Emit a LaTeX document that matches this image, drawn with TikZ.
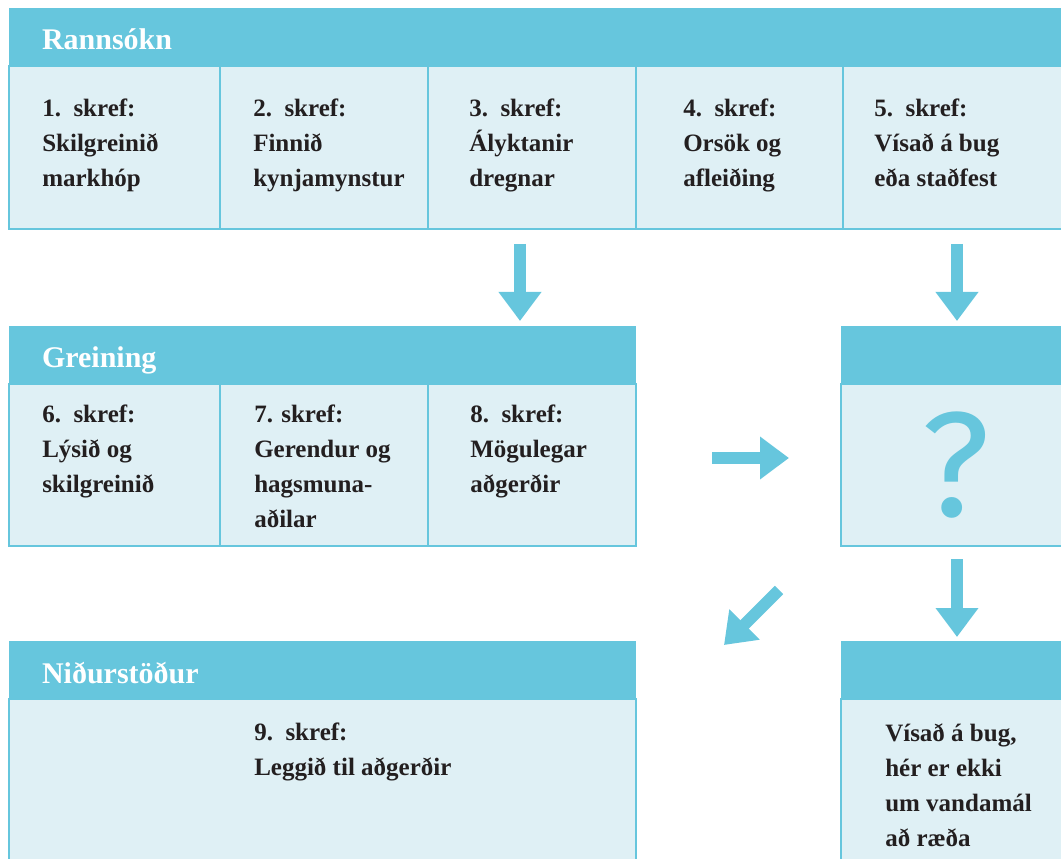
\documentclass[tikz,border=0pt]{standalone}
\usepackage{fontspec}
\setmainfont{Liberation Serif}
\newfontfamily\qmarkfont{Fira Sans}
\usetikzlibrary{arrows.meta, positioning}
\definecolor{headblue}{HTML}{66C6DD}
\definecolor{cellblue}{HTML}{DFF0F5}
\definecolor{inkdark}{HTML}{231F20}
\newdimen\pxu \pxu=0.75pt

\begin{document}
\begin{tikzpicture}[
        x=1\pxu, y=-1\pxu,
        header/.style={rectangle, fill=headblue, text=white, anchor=north west, outer sep=0pt, inner xsep=33\pxu, minimum height=58\pxu, text height=19.5pt, text depth=0pt, align=left, font=\bfseries\fontsize{22.5}{27}\selectfont},
        cell/.style={rectangle, fill=cellblue, draw=headblue, line width=2.2\pxu, outer sep=0pt, minimum height=163\pxu},
        steptext/.style={anchor=north west, inner sep=0pt, align=left, text=inkdark, font=\bfseries\fontsize{18.75}{26.25}\selectfont, execute at begin node=\strut},
        bigarrow/.style={draw=headblue, line width=9pt, -{Triangle[width=30.75pt, length=21.75pt]}}
    ]
    \useasboundingbox (0,0) rectangle (1061,859);

    % Rannsokn
    \node[header, text width=994\pxu] (rann) at (9,8) {Rannsókn};
    \node[cell, minimum width=211\pxu, anchor=north west] (s1) at (rann.south west) {};
    \node[cell, minimum width=208\pxu, right=0pt of s1] (s2) {};
    \node[cell, minimum width=208\pxu, right=0pt of s2] (s3) {};
    \node[cell, minimum width=207\pxu, right=0pt of s3] (s4) {};
    \node[cell, minimum width=227\pxu, right=0pt of s4] (s5) {};
    \node[steptext] (t1) at ([xshift=33\pxu, yshift=-32.5\pxu]s1.north west) {1.\ \ skref:\\Skilgreinið\\markhóp};
    \node[steptext] (t2) at ([xshift=33\pxu, yshift=-32.5\pxu]s2.north west) {2.\ \ skref:\\Finnið\\kynjamynstur};
    \node[steptext] (t3) at ([xshift=41\pxu, yshift=-32.5\pxu]s3.north west) {3.\ \ skref:\\Ályktanir\\dregnar};
    \node[steptext] (t4) at ([xshift=47\pxu, yshift=-32.5\pxu]s4.north west) {4.\ \ skref:\\Orsök og\\afleiðing};
    \node[steptext] (t5) at ([xshift=31\pxu, yshift=-32.5\pxu]s5.north west) {5.\ \ skref:\\Vísað á bug\\eða staðfest};

    % Greining
    \node[header, text width=561\pxu] (grein) at (9,326) {Greining};
    \node[cell, minimum width=211\pxu, minimum height=162\pxu, anchor=north west] (s6) at (grein.south west) {};
    \node[cell, minimum width=208\pxu, minimum height=162\pxu, right=0pt of s6] (s7) {};
    \node[cell, minimum width=208\pxu, minimum height=162\pxu, right=0pt of s7] (s8) {};
    \node[steptext] (t6) at ([xshift=33\pxu, yshift=-20.5\pxu]s6.north west) {6.\ \ skref:\\Lýsið og\\skilgreinið};
    \node[steptext] (t7) at ([xshift=34\pxu, yshift=-20.5\pxu]s7.north west) {7. skref:\\Gerendur og\\hagsmuna-\\aðilar};
    \node[steptext] (t8) at ([xshift=42\pxu, yshift=-20.5\pxu]s8.north west) {8.\ \ skref:\\Mögulegar\\aðgerðir};

    % spurning
    \node[header, minimum width=229\pxu] (qhead) at (841,326) {};
    \node[cell, minimum width=229\pxu, minimum height=162\pxu, anchor=north west, text=headblue, font=\qmarkfont\fontsize{112}{112}\selectfont] (qcell) at (qhead.south west) {?};

    % Nidurstodur
    \node[header, text width=561\pxu] (nidur) at (9,641) {Niðurstöður};
    \node[cell, minimum width=627\pxu, minimum height=185\pxu, anchor=north west] (ncell) at (nidur.south west) {};
    \node[steptext] (t9) at ([xshift=245\pxu, yshift=-23.5\pxu]ncell.north west) {9.\ \ skref:\\Leggið til aðgerðir};

    \node[header, minimum width=229\pxu] (rhead) at (841,641) {};
    \node[cell, minimum width=229\pxu, minimum height=185\pxu, anchor=north west] (rcell) at (rhead.south west) {};
    \node[steptext] (t10) at ([xshift=44\pxu, yshift=-24.5\pxu]rcell.north west) {Vísað á bug,\\hér er ekki\\um vandamál\\að ræða};

    % arrows
    \coordinate (a1s) at (520,244);
    \coordinate (a1e) at (520,321);
    \coordinate (a2s) at (957,244);
    \coordinate (a2e) at (957,321);
    \coordinate (a3s) at (712,458);
    \coordinate (a3e) at (789,458);
    \coordinate (a4s) at (957,559);
    \coordinate (a4e) at (957,637);
    \coordinate (a5s) at (779,590);
    \coordinate (a5e) at (724,645);
    \draw[bigarrow] (a1s) -- (a1e);
    \draw[bigarrow] (a2s) -- (a2e);
    \draw[bigarrow] (a3s) -- (a3e);
    \draw[bigarrow] (a4s) -- (a4e);
    \draw[bigarrow] (a5s) -- (a5e);
\end{tikzpicture}
\end{document}
